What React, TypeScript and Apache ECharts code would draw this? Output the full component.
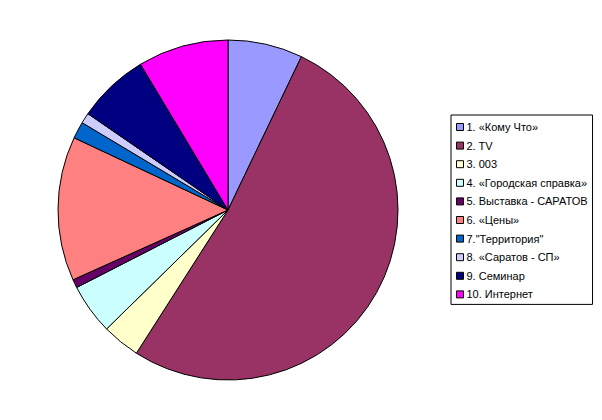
import React, { useEffect, useRef } from "react";
import * as echarts from "echarts";

const categories = [
  "1. «Кому Что»",
  "2. TV",
  "3. 003",
  "4. «Городская справка»",
  "5. Выставка - САРАТОВ",
  "6. «Цены»",
  '7."Территория"',
  "8. «Саратов - СП»",
  "9. Семинар",
  "10. Интернет",
];
const values = [7.1, 51.9, 3.6, 4.8, 0.8, 13.7, 1.6, 1.0, 6.8, 8.6];
const colors = [
  "#9999FF",
  "#993366",
  "#FFFFCC",
  "#CCFFFF",
  "#660066",
  "#FF8080",
  "#0066CC",
  "#CCCCFF",
  "#000080",
  "#FF00FF",
];

export default function App() {
  const ref = useRef<HTMLDivElement>(null);
  useEffect(() => {
    if (!ref.current) return;
    const chart = echarts.init(ref.current, undefined, { renderer: "svg" });
    chart.setOption({
      animation: false,
      backgroundColor: "#FFFFFF",
      color: colors,
      legend: {
        orient: "vertical",
        left: 451,
        top: 115,
        padding: [6, 5, 4, 5],
        borderColor: "#000000",
        borderWidth: 1,
        itemWidth: 7,
        itemHeight: 7,
        itemGap: 6.6,
        icon: "rect",
        itemStyle: { borderColor: "#000000", borderWidth: 1 },
        textStyle: {
          fontFamily: "Liberation Sans, Arial, sans-serif",
          fontSize: 11,
          lineHeight: 12,
          color: "#000000",
          padding: [0, 0, 0, -2],
        },
        data: categories,
      },
      series: [
        {
          type: "pie",
          center: [228, 210],
          radius: 170,
          startAngle: 90,
          clockwise: true,
          label: { show: false },
          labelLine: { show: false },
          emphasis: { disabled: true },
          itemStyle: { borderColor: "#000000", borderWidth: 1 },
          data: categories.map((name, i) => ({ name, value: values[i] })),
        },
      ],
    });
    return () => chart.dispose();
  }, []);
  return (
    <div
      ref={ref}
      style={{ position: "absolute", left: 0, top: 0, width: 602, height: 420 }}
    />
  );
}
